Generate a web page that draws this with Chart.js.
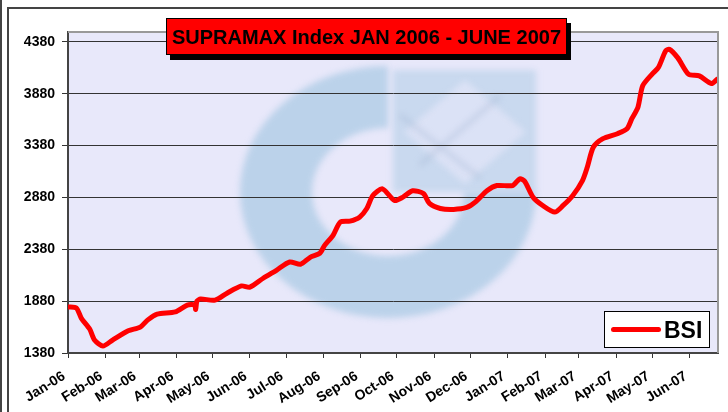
<!DOCTYPE html>
<html>
<head>
<meta charset="utf-8">
<script src="https://cdn.jsdelivr.net/npm/chart.js@4/dist/chart.umd.min.js"></script>
<style>
body { margin: 0; background: #fff; }
#wrap { position: relative; width: 728px; height: 412px; overflow: hidden; font-family: "Liberation Sans", Arial, sans-serif; }
canvas { position: absolute; left: 0; top: 0; }
#edge { position: absolute; left: 0; top: 0; width: 2px; height: 412px; background: #444; }
#frame { position: absolute; left: 7px; top: 7px; width: 800px; height: 500px; border-left: 2px solid #444; border-top: 2px solid #444; }
#title { position: absolute; left: 166px; top: 18px; width: 399px; height: 35px; background: #ff0000; border: 1px solid #000;
  box-shadow: 4px 5px 0 #000; font-weight: bold; font-size: 20px; line-height: 36px; text-align: center; color: #000; white-space: nowrap; }
#legend { position: absolute; left: 604px; top: 311px; width: 104px; height: 35px; background: #fff; border: 1px solid #000; }
#legend .swatch { position: absolute; left: 6px; top: 15px; width: 50px; height: 5px; border-radius: 3px; background: #ff0000; }
#legend .txt { position: absolute; left: 59px; top: 4px; font-weight: bold; font-size: 23px; line-height: 28px; color: #000; }
</style>
</head>
<body>
<div id="wrap">
  <canvas id="bsi-chart" width="728" height="412"></canvas>
  <div id="edge"></div>
  <div id="frame"></div>
  <div id="title">SUPRAMAX Index JAN 2006 - JUNE 2007</div>
  <div id="legend"><div class="swatch"></div><div class="txt">BSI</div></div>
</div>
<script>
// days counted from 1 Jan 2006
var day = [0, 7, 11, 18, 22, 29, 37, 50, 60, 66, 74, 89, 99, 105, 106, 107, 110, 122, 132, 144, 151,
    162, 173, 184, 193, 201, 209, 213, 220, 226, 234, 242, 248, 253, 261, 271, 278, 286,
    295, 300, 309, 320, 331, 338, 348, 356, 369, 375, 379, 386, 394, 404, 411, 419, 427,
    431, 436, 444, 456, 464, 468, 473, 477, 485, 490, 496, 499, 506, 515, 524, 534, 539];
var bsi = [1825, 1813, 1717, 1611, 1505, 1447, 1505, 1594, 1630, 1697, 1755, 1777, 1842, 1845, 1800, 1880, 1900, 1890, 1957, 2027, 2015,
    2101, 2178, 2258, 2236, 2303, 2342, 2418, 2515, 2642, 2652, 2690, 2774, 2899, 2963, 2851, 2883, 2945,
    2918, 2822, 2774, 2765, 2784, 2835, 2947, 2995, 2995, 3060, 3037, 2883, 2803, 2739, 2803, 2899, 3043,
    3172, 3364, 3447, 3495, 3543, 3640, 3748, 3957, 4072, 4133, 4293, 4310, 4229, 4069, 4053, 3979, 4022];

var monthLabels = ['Jan-06', 'Feb-06', 'Mar-06', 'Apr-06', 'May-06', 'Jun-06', 'Jul-06', 'Aug-06', 'Sep-06',
    'Oct-06', 'Nov-06', 'Dec-06', 'Jan-07', 'Feb-07', 'Mar-07', 'Apr-07', 'May-07', 'Jun-07'];
var yTicks = [1380, 1880, 2380, 2880, 3380, 3880, 4380];

// month start positions in days
var monthStarts = monthLabels.map(function (m, i) {
    return (Date.UTC(2006, i, 1) - Date.UTC(2006, 0, 1)) / 864e5;
});

var FONT = '"Liberation Sans", Arial, sans-serif';

// plot background, faded logo and the grey top/right border
var plotArea = {
    id: 'plotArea',
    beforeDraw: function (chart) {
        var ctx = chart.ctx, a = chart.chartArea;
        ctx.save();
        ctx.fillStyle = '#e8e8fa';
        ctx.fillRect(a.left, a.top, a.right - a.left, a.bottom - a.top);
        ctx.beginPath();
        ctx.rect(a.left, a.top, a.right - a.left, a.bottom - a.top);
        ctx.clip();
        // logo watermark, soft edges
        ctx.filter = 'blur(3px)';
        var cx = 388, cy = 192;
        ctx.fillStyle = 'rgba(160,197,224,0.62)';
        ctx.beginPath();
        ctx.ellipse(cx, cy, 148, 126, 0, 0, 1.5 * Math.PI, false);
        ctx.ellipse(cx, cy, 76, 64, 0, 1.5 * Math.PI, 0, true);
        ctx.closePath();
        ctx.fill();
        ctx.fillStyle = 'rgba(170,202,228,0.5)';
        ctx.fillRect(393, 70, 143, 122);
        ctx.fillStyle = 'rgba(232,232,250,0.6)';
        ctx.beginPath();
        ctx.moveTo(465, 80); ctx.lineTo(526, 132); ctx.lineTo(465, 184); ctx.lineTo(404, 132);
        ctx.closePath();
        ctx.fill();
        ctx.strokeStyle = 'rgba(150,170,200,0.35)';
        ctx.lineWidth = 4;
        ctx.beginPath();
        ctx.moveTo(400, 115); ctx.lineTo(480, 178);
        ctx.moveTo(500, 96); ctx.lineTo(420, 165);
        ctx.stroke();
        ctx.restore();
    },
    afterDraw: function (chart) {
        var ctx = chart.ctx, a = chart.chartArea;
        ctx.save();
        ctx.strokeStyle = '#999';
        ctx.lineWidth = 2;
        ctx.beginPath();
        ctx.moveTo(a.left, a.top);
        ctx.lineTo(a.right, a.top);
        ctx.lineTo(a.right, a.bottom);
        ctx.stroke();
        ctx.restore();
    }
};

var ctx = document.getElementById('bsi-chart').getContext('2d');
new Chart(ctx, {
    type: 'line',
    data: {
        datasets: [{
            label: 'BSI',
            data: day.map(function (d, i) { return { x: d, y: bsi[i] }; }),
            borderColor: '#ff0000',
            borderWidth: 5,
            pointRadius: 0,
            tension: 0.25,
            borderCapStyle: 'round',
            borderJoinStyle: 'round',
            fill: false
        }]
    },
    options: {
        responsive: false,
        animation: false,
        layout: { padding: { top: 32, right: 10, left: 0, bottom: 0 } },
        plugins: {
            legend: { display: false },
            tooltip: { enabled: false }
        },
        scales: {
            x: {
                type: 'linear',
                min: 0,
                max: 539.5,
                afterBuildTicks: function (s) {
                    s.ticks = monthStarts.map(function (v) { return { value: v }; });
                },
                afterFit: function (s) { s.height = 59; },
                ticks: {
                    autoSkip: false,
                    minRotation: 32,
                    maxRotation: 32,
                    padding: 10,
                    labelOffset: -4,
                    color: '#000',
                    font: { family: FONT, size: 14, weight: 'bold' },
                    callback: function (v) { return monthLabels[monthStarts.indexOf(v)]; }
                },
                grid: { drawOnChartArea: false, tickLength: 5, color: '#333', lineWidth: 1 },
                border: { color: '#444', width: 2 }
            },
            y: {
                min: 1380,
                max: 4476,
                afterBuildTicks: function (s) {
                    s.ticks = yTicks.map(function (v) { return { value: v }; });
                },
                afterFit: function (s) { s.width = 68; },
                ticks: {
                    padding: 7,
                    color: '#000',
                    font: { family: FONT, size: 14, weight: 'bold' },
                    callback: function (v) { return String(v); }
                },
                grid: { color: '#333', lineWidth: 1, tickLength: 6 },
                border: { color: '#444', width: 2 }
            }
        }
    },
    plugins: [plotArea]
});
</script>
</body>
</html>
